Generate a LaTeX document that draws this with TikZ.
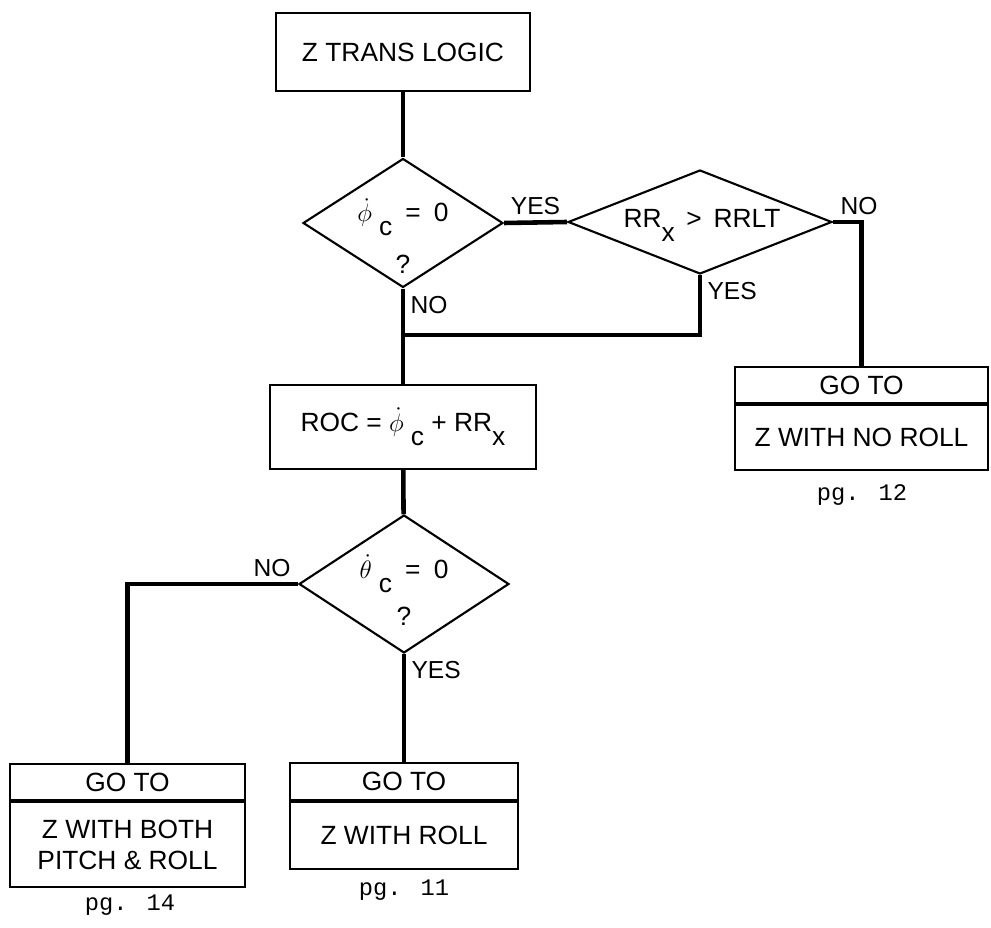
\documentclass[tikz,border=0pt]{standalone}
\usepackage{fontspec}
\setmainfont{Liberation Sans}
\newfontfamily\pgfont{Liberation Mono}
\usetikzlibrary{shapes.geometric, positioning}

\tikzset{
	box/.style={draw, line width=1.3pt, inner sep=0pt, align=center,
		font=\fontsize{15}{18}\selectfont},
	decision/.style={diamond, draw, line width=1.2pt, inner sep=0pt},
	dtext/.style={align=center, inner sep=0pt, font=\fontsize{15}{18}\selectfont},
	flow/.style={line width=2.6pt},
	lbl/.style={font=\fontsize{14}{16}\selectfont, inner sep=3pt},
	pglbl/.style={font=\pgfont\fontsize{13.5}{15}\selectfont}
}
\newcommand{\lowsub}[1]{\raisebox{-1ex}{#1}}

\begin{document}
\begin{tikzpicture}[x=0.02cm, y=-0.02cm]
	\useasboundingbox (0,0) rectangle (991,928);
	\node[box, minimum width=5.08cm, minimum height=1.56cm] (start) at (403,52) {Z TRANS LOGIC};

	\node[decision, minimum width=4cm, minimum height=2.58cm] (d1) at (403,223) {};
	\node[dtext] (d1text) at (403,236) {$\dot{\phi}$\hspace{4pt}\lowsub{c}\enspace=\enspace0\\[10pt]?};
	\node[decision, minimum width=5.28cm, minimum height=2.08cm] (d2) at (700,222) {};
	\node[dtext] (d2text) at (702,225) {RR\lowsub{x} \,>\, RRLT};

	\node[box, minimum width=5.32cm, minimum height=1.68cm] (roc) at (403,427)
		{ROC = $\dot{\phi}$\hspace{4pt}\lowsub{c} + RR\lowsub{x}};

	\node[decision, minimum width=4.2cm, minimum height=2.76cm] (d3) at (404,584) {};
	\node[dtext] (d3text) at (404,590) {$\dot{\theta}$\hspace{4pt}\lowsub{c}\enspace=\enspace0\\[7pt]?};
	\coordinate (join) at (403,335);

	\node[box, minimum width=5.06cm, minimum height=0.72cm] (rgo) at (861.5,385) {GO TO};
	\node[box, minimum width=5.06cm, minimum height=1.3cm, below=0pt of rgo] (rdest) {Z WITH NO ROLL};
	\node[pglbl] (rpg) at (862,495) {pg. 12};

	\node[box, minimum width=4.7cm, minimum height=0.72cm] (lgo) at (127.5,782) {GO TO};
	\node[box, minimum width=4.7cm, minimum height=1.7cm, below=0pt of lgo] (ldest) {Z WITH BOTH\\PITCH \& ROLL};
	\node[pglbl] (lpg) at (130,905) {pg. 14};

	\node[box, minimum width=4.56cm, minimum height=0.74cm] (mgo) at (404,781.5) {GO TO};
	\node[box, minimum width=4.56cm, minimum height=1.34cm, below=0pt of mgo] (mdest) {Z WITH ROLL};
	\node[pglbl] (mpg) at (404,890) {pg. 11};

	\draw[flow] (start) -- (d1);
	\draw[flow] (d1.east) -- node[lbl, above] (yes1) {YES} (d2.west);
	\draw[flow] (d2.east) -| node[lbl, pos=0, above right] (no2) {NO} (rgo.north);
	\draw[flow] (d2.south) |- node[lbl, pos=0, below right] (yes2) {YES} (join);
	\draw[flow] (d1.south) -- node[lbl, pos=0, below right] (no1) {NO} (roc.north);
	\draw[flow] (roc) -- (d3);
	\draw[flow] (d3.west) -| node[lbl, pos=0, above left] (no3) {NO} (lgo.north);
	\draw[flow] (d3.south) -- node[lbl, pos=0, below right] (yes3) {YES} (mgo.north);
\end{tikzpicture}
\end{document}
